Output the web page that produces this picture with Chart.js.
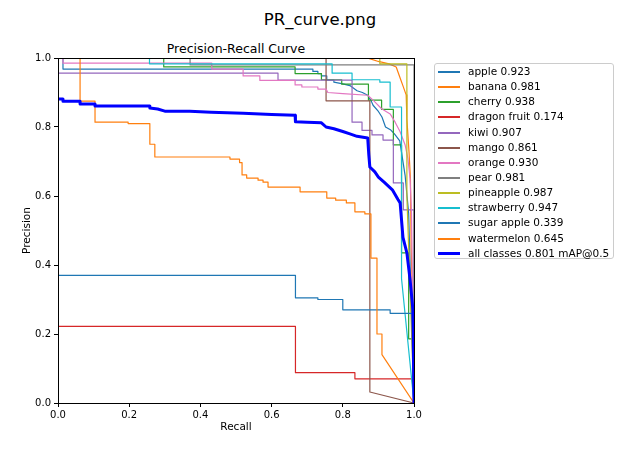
<!DOCTYPE html>
<html>
<head>
  <title>PR_curve.png</title>
  <script src="https://cdn.jsdelivr.net/npm/chart.js"></script>
  <style>
    html, body {
      margin: 0;
      padding: 0;
      background: #ffffff;
    }

    body {
      width: 640px;
      height: 455px;
      position: relative;
      overflow: hidden;
      font-family: 'DejaVu Sans', sans-serif;
      color: #000000;
    }

    #grafico {
      position: absolute;
      left: 0;
      top: 0;
    }

    .suptitle {
      position: absolute;
      left: 0;
      width: 640px;
      top: 9.7px;
      text-align: center;
      font-size: 16.5px;
      white-space: nowrap;
    }

    .axes-title {
      position: absolute;
      left: 58px;
      width: 356px;
      top: 41.4px;
      text-align: center;
      font-size: 12.5px;
      white-space: nowrap;
    }

    .legend {
      position: absolute;
      left: 434px;
      top: 63px;
      width: 180px;
      height: 196px;
      box-sizing: border-box;
      border: 1px solid #cccccc;
      border-radius: 3px;
      background: rgba(255, 255, 255, 0.8);
    }

    .legend-row {
      position: relative;
      height: 15.15px;
      line-height: 15.15px;
      font-size: 10.5px;
      white-space: nowrap;
    }

    .legend-line {
      position: absolute;
      left: 3px;
      width: 22px;
    }

    .legend-text {
      position: absolute;
      left: 33px;
      top: 0;
    }
  </style>
</head>
<body>

  <div class="suptitle">PR_curve.png</div>
  <div class="axes-title">Precision-Recall Curve</div>
  <canvas id="grafico" width="640" height="455" style="width:640px;height:455px"></canvas>
  <div class="legend" id="legend"></div>

  <script>

    // curves: [recall, precision]
    var apple = [[0, 1], [0.014, 1], [0.014, 0.968], [0.716, 0.968], [0.716, 0.961], [0.73, 0.961], [0.73, 0.955], [0.74, 0.955], [0.74, 0.948], [0.755, 0.948], [0.755, 0.936], [0.775, 0.936], [0.775, 0.93], [0.8, 0.925], [0.82, 0.92], [0.84, 0.905], [0.855, 0.9], [0.87, 0.892], [0.88, 0.875], [0.885, 0.863], [0.9, 0.845], [0.91, 0.829], [0.92, 0.8], [0.935, 0.791], [0.945, 0.78], [0.96, 0.76], [0.975, 0.66], [0.985, 0.55], [1, 0]];
    var banana = [[0, 1], [0.87, 1], [0.875, 0.998], [0.9, 0.99], [0.93, 0.983], [0.95, 0.974], [0.96, 0.945], [0.968, 0.922], [0.978, 0.893], [0.98, 0.823], [0.986, 0.728], [0.99, 0.65], [0.992, 0.45], [0.995, 0.34], [1, 0]];
    var cherry = [[0, 1], [0.297, 1], [0.297, 0.974], [0.666, 0.974], [0.666, 0.955], [0.74, 0.955], [0.74, 0.937], [0.797, 0.937], [0.797, 0.924], [0.872, 0.924], [0.872, 0.878], [0.909, 0.878], [0.909, 0.851], [0.942, 0.851], [0.942, 0.748], [0.965, 0.748], [0.965, 0.435], [0.985, 0.435], [0.985, 0.186], [0.997, 0.186], [1, 0]];
    var dragonFruit = [[0, 0.222], [0.667, 0.222], [0.667, 0.088], [0.834, 0.088], [0.834, 0.07], [0.995, 0.07], [1, 0]];
    var kiwi = [[0, 1], [0, 0.956], [0.618, 0.956], [0.618, 0.936], [0.826, 0.936], [0.826, 0.814], [0.854, 0.814], [0.854, 0.79], [0.882, 0.79], [0.882, 0.777], [0.913, 0.777], [0.913, 0.762], [0.942, 0.762], [0.942, 0.638], [0.97, 0.638], [0.97, 0.56], [1, 0.56], [1, 0]];
    var mango = [[0, 1], [0.753, 1], [0.753, 0.876], [0.876, 0.876], [0.876, 0.032], [1, 0]];
    var orange = [[0, 1], [0.014, 1], [0.014, 0.985], [0.432, 0.985], [0.432, 0.968], [0.52, 0.968], [0.52, 0.948], [0.567, 0.948], [0.567, 0.935], [0.666, 0.935], [0.666, 0.922], [0.685, 0.922], [0.685, 0.916], [0.73, 0.916], [0.73, 0.91], [0.753, 0.91], [0.758, 0.9], [0.8, 0.897], [0.87, 0.892], [0.885, 0.878], [0.909, 0.853], [0.933, 0.838], [0.947, 0.814], [0.961, 0.786], [0.975, 0.748], [0.983, 0.708], [0.989, 0.65], [0.993, 0.55], [1, 0]];
    var pear = [[0, 1], [0.371, 1], [0.371, 0.98], [1, 0.98], [1, 0]];
    var pineapple = [[0, 1], [0.904, 1], [0.904, 0.983], [0.98, 0.983], [0.98, 0.6], [1, 0]];
    var strawberry = [[0, 1], [0.257, 1], [0.257, 0.983], [0.77, 0.983], [0.77, 0.956], [0.826, 0.956], [0.826, 0.937], [0.904, 0.937], [0.904, 0.93], [0.933, 0.93], [0.933, 0.858], [0.965, 0.858], [0.965, 0.36], [1, 0]];
    var sugarApple = [[0, 0.37], [0.667, 0.37], [0.667, 0.305], [0.73, 0.305], [0.73, 0.3], [0.8, 0.3], [0.8, 0.27], [0.933, 0.27], [0.933, 0.26], [0.995, 0.26], [1, 0]];
    var watermelon = [[0, 1], [0.062, 1], [0.062, 0.875], [0.104, 0.875], [0.104, 0.814], [0.197, 0.814], [0.197, 0.81], [0.258, 0.81], [0.258, 0.75], [0.272, 0.75], [0.272, 0.713], [0.483, 0.713], [0.483, 0.707], [0.51, 0.707], [0.51, 0.697], [0.517, 0.697], [0.517, 0.661], [0.53, 0.661], [0.53, 0.652], [0.562, 0.652], [0.562, 0.646], [0.576, 0.646], [0.576, 0.64], [0.59, 0.64], [0.59, 0.626], [0.68, 0.626], [0.68, 0.612], [0.755, 0.612], [0.755, 0.594], [0.78, 0.594], [0.78, 0.588], [0.81, 0.588], [0.81, 0.58], [0.834, 0.58], [0.834, 0.554], [0.862, 0.554], [0.862, 0.548], [0.879, 0.548], [0.879, 0.42], [0.896, 0.42], [0.896, 0.2], [0.91, 0.2], [0.91, 0.14], [1, 0]];
    var allClasses = [[0, 0.881], [0.014, 0.881], [0.014, 0.875], [0.062, 0.875], [0.062, 0.867], [0.104, 0.867], [0.104, 0.861], [0.258, 0.861], [0.258, 0.855], [0.28, 0.852], [0.3, 0.846], [0.37, 0.846], [0.43, 0.843], [0.52, 0.84], [0.6, 0.836], [0.666, 0.834], [0.667, 0.815], [0.7, 0.814], [0.74, 0.812], [0.753, 0.8], [0.775, 0.795], [0.8, 0.787], [0.82, 0.78], [0.84, 0.773], [0.87, 0.768], [0.873, 0.72], [0.876, 0.684], [0.89, 0.67], [0.9, 0.655], [0.916, 0.64], [0.94, 0.617], [0.955, 0.59], [0.961, 0.58], [0.965, 0.53], [0.969, 0.48], [0.98, 0.435], [0.989, 0.357], [0.997, 0.27], [1, 0]];

    var classNames = ['apple', 'banana', 'cherry', 'dragon fruit', 'kiwi', 'mango', 'orange', 'pear', 'pineapple', 'strawberry', 'sugar apple', 'watermelon'];
    var classAP = [0.923, 0.981, 0.938, 0.174, 0.907, 0.861, 0.930, 0.981, 0.987, 0.947, 0.339, 0.645];
    var classCurves = [apple, banana, cherry, dragonFruit, kiwi, mango, orange, pear, pineapple, strawberry, sugarApple, watermelon];
    var mAP = 0.801;

    var xTicks = [0, 0.2, 0.4, 0.6, 0.8, 1.0];
    var yTicks = [0, 0.2, 0.4, 0.6, 0.8, 1.0];

    // matplotlib tab10, repeats after ten
    var colores = ['#1f77b4', '#ff7f0e', '#2ca02c', '#d62728', '#9467bd', '#8c564b', '#e377c2', '#7f7f7f', '#bcbd22', '#17becf'];

    function toPoints(curve) {
      return curve.map(function (p) { return { x: p[0], y: p[1] }; });
    }

    var datasets = classCurves.map(function (curve, i) {
      return {
        label: classNames[i] + ' ' + classAP[i].toFixed(3),
        data: toPoints(curve),
        borderColor: colores[i % 10],
        borderWidth: 1.2,
        order: classCurves.length + 1 - i // later series on top, like matplotlib
      };
    });
    datasets.push({
      label: 'all classes ' + mAP.toFixed(3) + ' mAP@0.5',
      data: toPoints(allClasses),
      borderColor: '#0000ff',
      borderWidth: 3,
      order: 0
    });

    // box round the axes
    var marco = {
      id: 'marco',
      afterDatasetsDraw: function (chart) {
        var a = chart.chartArea;
        var c = chart.ctx;
        c.save();
        c.strokeStyle = '#000000';
        c.lineWidth = 1;
        c.strokeRect(a.left + 0.5, a.top + 0.5, a.right - a.left, a.bottom - a.top);
        c.restore();
      }
    };

    var fuente = { family: 'DejaVu Sans', size: 10 };

    var ctx = document.getElementById('grafico').getContext('2d');
    var myChart = new Chart(ctx, {
      type: 'line',
      data: { datasets: datasets },
      options: {
        responsive: false,
        animation: false,
        parsing: false,
        layout: { padding: { left: 0, top: 58, right: 226, bottom: 0 } },
        elements: {
          point: { radius: 0, hoverRadius: 0 },
          line: { tension: 0, fill: false, borderJoinStyle: 'round' }
        },
        plugins: {
          legend: { display: false },
          tooltip: { enabled: false },
          title: { display: false }
        },
        events: [],
        scales: {
          x: {
            type: 'linear',
            min: 0,
            max: 1,
            afterBuildTicks: function (s) { s.ticks = xTicks.map(function (v) { return { value: v }; }); },
            afterFit: function (s) { s.height = 52; },
            ticks: {
              color: '#000000',
              font: fuente,
              padding: 2,
              maxRotation: 0,
              autoSkip: false,
              callback: function (v) { return Number(v).toFixed(1); }
            },
            grid: { drawOnChartArea: false, drawTicks: true, tickLength: 4, color: '#000000', tickColor: '#000000', tickWidth: 1 },
            border: { display: false },
            title: { display: true, text: 'Recall', color: '#000000', font: { family: 'DejaVu Sans', size: 10.5 }, padding: { top: 0, bottom: 21 } }
          },
          y: {
            type: 'linear',
            min: 0,
            max: 1,
            afterBuildTicks: function (s) { s.ticks = yTicks.map(function (v) { return { value: v }; }); },
            afterFit: function (s) { s.width = 58; },
            ticks: {
              color: '#000000',
              font: fuente,
              padding: 3,
              autoSkip: false,
              callback: function (v) { return Number(v).toFixed(1); }
            },
            grid: { drawOnChartArea: false, drawTicks: true, tickLength: 4, color: '#000000', tickColor: '#000000', tickWidth: 1 },
            border: { display: false },
            title: { display: true, text: 'Precision', color: '#000000', font: { family: 'DejaVu Sans', size: 10.5 }, padding: { top: 21, bottom: 0 } }
          }
        }
      },
      plugins: [marco]
    });

    // legend outside the axes, built from the same arrays
    var caja = document.getElementById('legend');
    function agregarFila(texto, color, ancho) {
      var fila = document.createElement('div');
      fila.className = 'legend-row';
      var linea = document.createElement('div');
      linea.className = 'legend-line';
      var grosor = ancho > 2 ? 3 : 2;
      linea.style.height = grosor + 'px';
      linea.style.top = Math.round(7.6 - grosor / 2) + 'px';
      linea.style.background = color;
      var etiqueta = document.createElement('span');
      etiqueta.className = 'legend-text';
      etiqueta.textContent = texto;
      fila.appendChild(linea);
      fila.appendChild(etiqueta);
      caja.appendChild(fila);
    }
    datasets.forEach(function (d) {
      agregarFila(d.label, d.borderColor, d.borderWidth);
    });

  </script>
</body>
</html>
